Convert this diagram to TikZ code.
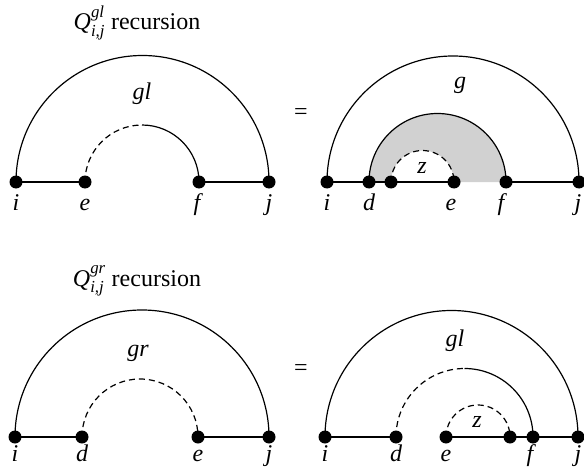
\documentclass[tikz,border=0pt]{standalone}
\usepackage{amsmath}
\usepackage{fontspec}
\setmainfont{Liberation Serif}
\begin{document}
\begin{tikzpicture}[x=1pt,y=1pt,line width=1.2pt,
  dot/.style={circle,fill=black,inner sep=0pt,minimum size=13pt},
  lab/.style={anchor=base,inner sep=0pt,font=\fontsize{24}{28}\selectfont\itshape},
  ttl/.style={anchor=base,inner sep=0pt,font=\fontsize{24}{28}\selectfont},
  dsh/.style={dash pattern=on 6pt off 4pt},
  shade/.style={fill=black!18,draw=none}]
\useasboundingbox (0,0) rectangle (584,467);

% ---------- top left ----------
\node[ttl] (t1) at (137,437) {$\mathit{Q}^{\text{\itshape gl}}_{\text{\itshape i,j}}$ recursion};
\coordinate (a1) at (16,285);
\coordinate (a2) at (85,285);
\coordinate (a3) at (199,285);
\coordinate (a4) at (269,285);
\draw (a1) arc[start angle=180,end angle=0,radius=126.5pt];
\draw[dsh] (a2) arc[start angle=180,end angle=90,radius=57pt] coordinate (atop);
\draw (atop) arc[start angle=90,end angle=0,radius=57pt];
\draw (a1) -- (a2);
\draw (a3) -- (a4);
\node[dot] (ai) at (a1) {};
\node[dot] (ae) at (a2) {};
\node[dot] (af) at (a3) {};
\node[dot] (aj) at (a4) {};
\node[lab] (ail) at (16,257) {i};
\node[lab] (ael) at (85,257) {e};
\node[lab] (afl) at (197,257) {f};
\node[lab] (ajl) at (269,257) {j};
\node[lab] (agl) at (142,367) {gl};

% ---------- top right ----------
\node[ttl] (eq1) at (301,347) {=};
\coordinate (b1) at (327,285);
\coordinate (b2) at (369,285);
\coordinate (b3) at (391,285);
\coordinate (b4) at (454,285);
\coordinate (b5) at (506,285);
\coordinate (b6) at (579,285);
\fill[shade] (b2) arc[start angle=180,end angle=0,radius=68.5pt] -- (b4) arc[start angle=0,end angle=180,radius=31.5pt] -- cycle;
\draw (b1) arc[start angle=180,end angle=0,radius=126pt];
\draw (b2) arc[start angle=180,end angle=0,radius=68.5pt];
\draw[dsh] (b3) arc[start angle=180,end angle=0,radius=31.5pt];
\draw (b1) -- (b4);
\draw (b5) -- (b6);
\node[dot] (bi) at (b1) {};
\node[dot] (bd) at (b2) {};
\node[dot] (bz) at (b3) {};
\node[dot] (be) at (b4) {};
\node[dot] (bf) at (b5) {};
\node[dot] (bj) at (b6) {};
\node[lab] (bil) at (327,257) {i};
\node[lab] (bdl) at (369,257) {d};
\node[lab] (bel) at (451,257) {e};
\node[lab] (bfl) at (501,257) {f};
\node[lab] (bjl) at (578,257) {j};
\node[lab] (bgl) at (460,378) {g};
\node[lab] (bzl) at (422,294) {z};

% ---------- bottom left ----------
\node[ttl] (t2) at (137,181) {$\mathit{Q}^{\text{\itshape gr}}_{\text{\itshape i,j}}$ recursion};
\coordinate (c1) at (15,30);
\coordinate (c2) at (82,30);
\coordinate (c3) at (198,30);
\coordinate (c4) at (269,30);
\draw (c1) arc[start angle=180,end angle=0,radius=127pt];
\draw[dsh] (c2) arc[start angle=180,end angle=0,radius=58pt];
\draw (c1) -- (c2);
\draw (c3) -- (c4);
\node[dot] (ci) at (c1) {};
\node[dot] (cd) at (c2) {};
\node[dot] (ce) at (c3) {};
\node[dot] (cj) at (c4) {};
\node[lab] (cil) at (15,6) {i};
\node[lab] (cdl) at (82,6) {d};
\node[lab] (cel) at (198,6) {e};
\node[lab] (cjl) at (269,6) {j};
\node[lab] (cgl) at (138,111) {gr};

% ---------- bottom right ----------
\node[ttl] (eq2) at (301,92) {=};
\coordinate (d1) at (325,30);
\coordinate (d2) at (396,30);
\coordinate (d3) at (446,30);
\coordinate (d4) at (510,30);
\coordinate (d5) at (533,30);
\coordinate (d6) at (578,30);
\draw (d1) arc[start angle=180,end angle=0,radius=126.5pt];
\draw[dsh] (d2) arc[start angle=180,end angle=90,radius=68.5pt] coordinate (dtop);
\draw (dtop) arc[start angle=90,end angle=0,radius=68.5pt];
\draw[dsh] (d3) arc[start angle=180,end angle=0,radius=32pt];
\draw (d1) -- (d2);
\draw (d3) -- (d6);
\node[dot] (di) at (d1) {};
\node[dot] (dd) at (d2) {};
\node[dot] (de) at (d3) {};
\node[dot] (dz) at (d4) {};
\node[dot] (df) at (d5) {};
\node[dot] (dj) at (d6) {};
\node[lab] (dil) at (325,6) {i};
\node[lab] (ddl) at (396,6) {d};
\node[lab] (del) at (446,6) {e};
\node[lab] (dfl) at (530,6) {f};
\node[lab] (djl) at (578,6) {j};
\node[lab] (dgl) at (455,121) {gl};
\node[lab] (dzl) at (477,40) {z};
\end{tikzpicture}
\end{document}
